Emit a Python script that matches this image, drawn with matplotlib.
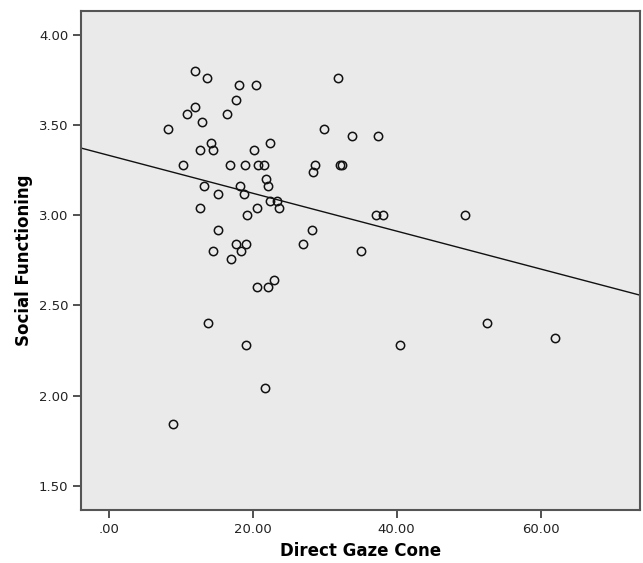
import matplotlib
matplotlib.use("Agg")
import matplotlib.pyplot as plt

# Direct gaze cone (x) vs social functioning (y)
gaze_cone = [
    8.2, 11.9, 13.6, 11.9, 10.9, 13.0, 14.2, 14.4, 12.6, 10.3,
    13.2, 15.2, 12.7, 15.2, 14.4, 13.7, 8.9, 18.1, 20.4, 17.7,
    16.4, 31.9, 29.9, 33.8, 37.4, 22.4, 20.1, 16.8, 18.9, 20.7,
    21.6, 28.7, 28.3, 32.1, 32.4, 21.8, 22.1, 18.2, 18.8, 22.4,
    23.4, 23.6, 20.6, 19.2, 37.1, 38.1, 28.2, 27.0, 17.6, 19.1,
    18.4, 16.9, 35.0, 20.6, 22.1, 22.9, 19.1, 21.7, 40.5, 49.5,
    52.5, 62.0,
]
social_func = [
    3.48, 3.80, 3.76, 3.60, 3.56, 3.52, 3.40, 3.36, 3.36, 3.28,
    3.16, 3.12, 3.04, 2.92, 2.80, 2.40, 1.84, 3.72, 3.72, 3.64,
    3.56, 3.76, 3.48, 3.44, 3.44, 3.40, 3.36, 3.28, 3.28, 3.28,
    3.28, 3.28, 3.24, 3.28, 3.28, 3.20, 3.16, 3.16, 3.12, 3.08,
    3.08, 3.04, 3.04, 3.00, 3.00, 3.00, 2.92, 2.84, 2.84, 2.84,
    2.80, 2.76, 2.80, 2.60, 2.60, 2.64, 2.28, 2.04, 2.28, 3.00,
    2.40, 2.32,
]

# fit line as shown
fit_intercept = 3.332
fit_slope = -0.0105

x_ticks = [0, 20, 40, 60]
x_tick_labels = [".00", "20.00", "40.00", "60.00"]
y_ticks = [1.5, 2.0, 2.5, 3.0, 3.5, 4.0]
y_tick_labels = ["1.50", "2.00", "2.50", "3.00", "3.50", "4.00"]

fig = plt.figure(figsize=(6.43, 5.63), dpi=100)
ax = fig.add_axes([0.126, 0.0941, 0.869, 0.887])
ax.set_facecolor("#EAEAEA")

ax.plot(gaze_cone, social_func, linestyle="none", marker="o",
        markersize=6, markerfacecolor="none", markeredgecolor="#111111",
        markeredgewidth=1.1)
ax.axline((0, fit_intercept), slope=fit_slope, color="#111111", linewidth=1.0)

ax.set_xlim(-3.89, 73.8)
ax.set_ylim(1.365, 4.135)
ax.set_xticks(x_ticks)
ax.set_xticklabels(x_tick_labels)
ax.set_yticks(y_ticks)
ax.set_yticklabels(y_tick_labels)

for s in ax.spines.values():
    s.set_color("#555555")
    s.set_linewidth(1.5)

ax.tick_params(axis="both", direction="out", length=6, width=1.2,
               color="#333333", labelsize=9.5, labelcolor="#222222", pad=3)

ax.set_xlabel("Direct Gaze Cone", fontsize=12, fontweight="bold", labelpad=5)
ax.set_ylabel("Social Functioning", fontsize=12, fontweight="bold", labelpad=4)

fig.savefig("out.png", dpi=100)
